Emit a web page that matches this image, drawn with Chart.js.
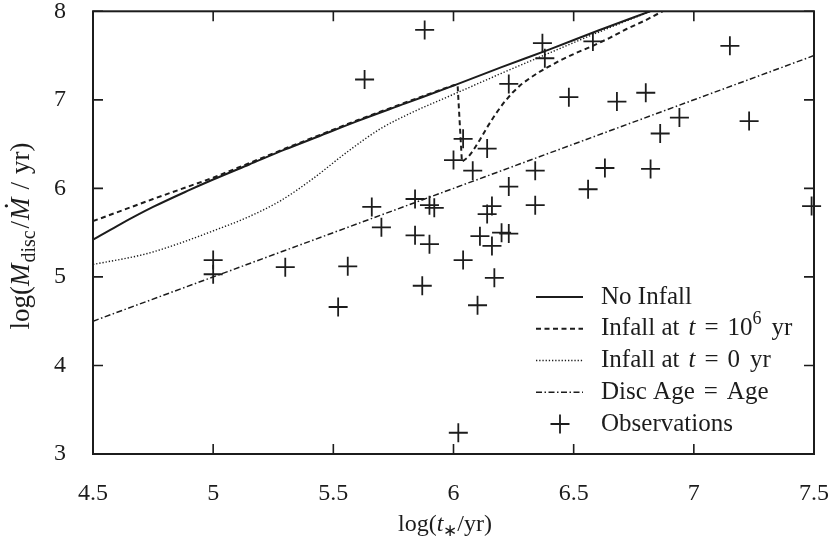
<!DOCTYPE html>
<html>
<head>
<meta charset="utf-8">
<script src="https://cdn.jsdelivr.net/npm/chart.js@4"></script>
<style>
html,body{margin:0;padding:0;background:#fff;}
#wrap{width:829px;height:552px;position:relative;}
</style>
</head>
<body>
<div id="wrap"><canvas id="c"></canvas></div>
<script>
// ---------------- data ----------------
const xTickLabels = ['4.5', '5', '5.5', '6', '6.5', '7', '7.5'];
const yTickLabels = ['3', '4', '5', '6', '7', '8'];

const noInfallX = [4.5, 4.6, 4.75, 4.9, 5.0, 5.15, 5.3, 5.45, 5.6, 5.8, 6.0, 6.2, 6.4, 6.6, 6.818];
const noInfallY = [5.42, 5.575, 5.79, 5.98, 6.10, 6.27, 6.44, 6.60, 6.76, 6.96, 7.16, 7.37, 7.57, 7.78, 8.0];

const infall6X = [4.5, 4.75, 5.0, 5.3, 5.6, 5.8, 6.0, 6.017, 6.035, 6.06, 6.08, 6.11, 6.14, 6.175, 6.21, 6.245,
                  6.28, 6.32, 6.36, 6.40, 6.44, 6.51, 6.58, 6.65, 6.72, 6.80, 6.87];
const infall6Y = [5.63, 5.88, 6.12, 6.45, 6.77, 6.97, 7.165, 7.17, 6.30, 6.35, 6.42, 6.55, 6.69, 6.84, 6.97, 7.08,
                  7.17, 7.25, 7.32, 7.38, 7.44, 7.53, 7.61, 7.70, 7.80, 7.90, 8.0];

const infall0X = [4.5, 4.72, 4.85, 5.0, 5.14, 5.28, 5.415, 5.557, 5.694, 5.83, 6.015, 6.2, 6.4, 6.6, 6.82];
const infall0Y = [5.14, 5.26, 5.37, 5.52, 5.67, 5.86, 6.11, 6.41, 6.67, 6.86, 7.08, 7.30, 7.53, 7.76, 8.0];

const discAgeX = [4.5, 7.5];
const discAgeY = [4.5, 7.5];

const obsX = [5.88, 5.63, 6.37, 6.38, 6.58, 7.15, 6.23, 6.48, 6.68, 6.80, 6.94, 7.23, 6.86, 6.04, 6.14, 6.00,
              6.08, 6.34, 6.63, 6.82, 6.23, 6.56, 6.34, 6.16, 6.14, 6.11, 6.20, 6.23, 6.16, 6.04, 6.17, 7.49,
              6.10, 6.02, 5.84, 5.90, 5.92, 5.66, 5.70, 5.84, 5.90, 5.00, 5.00, 5.30, 5.56, 5.52, 5.87];
const obsY = [7.79, 7.23, 7.64, 7.47, 7.66, 7.61, 7.18, 7.03, 6.98, 7.08, 6.80, 6.76, 6.62, 6.56, 6.45, 6.32,
              6.20, 6.20, 6.23, 6.22, 6.02, 5.99, 5.81, 5.80, 5.71, 5.46, 5.50, 5.49, 5.35, 5.19, 4.99, 5.80,
              4.68, 3.24, 5.88, 5.81, 5.78, 5.79, 5.56, 5.47, 5.37, 5.19, 5.03, 5.11, 5.12, 4.66, 4.90];

const seriesLabels = ['No Infall', 'Infall at t = 10\u2076 yr', 'Infall at t = 0 yr', 'Disc Age = Age', 'Observations'];

// ---------------- helpers ----------------
const INK = '#1c1c1c';
const FONT = '"Liberation Serif", "Times New Roman", serif';
const pts = (xs, ys) => xs.map((x, i) => ({x: x, y: ys[i]}));

function segFont(s, size, subRatio) {
  const sz = (s.sub || s.sup) ? Math.round(size * subRatio) : size;
  return (s.it ? 'italic ' : '') + sz + 'px ' + FONT;
}
function segWidth(ctx, s, size, subRatio) {
  if (s.gap) return s.gap;
  ctx.font = segFont(s, size, subRatio);
  return ctx.measureText(s.t).width;
}
function drawRich(ctx, segs, x, y, size, align, subRatio) {
  subRatio = subRatio || 0.7;
  ctx.textBaseline = 'middle';
  ctx.textAlign = 'left';
  let total = 0;
  segs.forEach(s => { total += segWidth(ctx, s, size, subRatio); });
  let cx = align === 'center' ? x - total / 2 : x;
  segs.forEach(s => {
    const w = segWidth(ctx, s, size, subRatio);
    if (!s.gap) {
      ctx.font = segFont(s, size, subRatio);
      let dy = 0;
      if (s.sub) dy = size * 0.28;
      if (s.sup) dy = -size * 0.38;
      ctx.fillText(s.t, cx, y + dy);
      if (s.dot) {
        ctx.font = size + 'px ' + FONT;
        ctx.textAlign = 'center';
        ctx.fillText('.', cx + w * 0.62, y - size * 0.78);
        ctx.textAlign = 'left';
      }
    }
    cx += w;
  });
}

const legendSegs = [
  [{t: 'No Infall'}],
  [{t: 'Infall at'}, {gap: 9}, {t: 't', it: true}, {gap: 9}, {t: '='}, {gap: 9}, {t: '10'}, {t: '6', sup: true}, {gap: 10}, {t: 'yr'}],
  [{t: 'Infall at'}, {gap: 9}, {t: 't', it: true}, {gap: 9}, {t: '='}, {gap: 9}, {t: '0'}, {gap: 10}, {t: 'yr'}],
  [{t: 'Disc Age'}, {gap: 9}, {t: '='}, {gap: 9}, {t: 'Age'}],
  [{t: 'Observations'}]
];

const framePlugin = {
  id: 'frame',
  afterDraw(chart) {
    const ctx = chart.ctx;
    const a = chart.chartArea;
    const xs = chart.scales.x, ys = chart.scales.y;
    ctx.save();
    ctx.strokeStyle = INK;
    ctx.fillStyle = INK;
    // ticks (inward, mirrored)
    ctx.lineWidth = 1.6;
    const TL = 10;
    xs.ticks.forEach(t => {
      const px = xs.getPixelForValue(t.value);
      ctx.beginPath();
      ctx.moveTo(px, a.bottom); ctx.lineTo(px, a.bottom - TL);
      ctx.moveTo(px, a.top); ctx.lineTo(px, a.top + TL);
      ctx.stroke();
    });
    ys.ticks.forEach(t => {
      const py = ys.getPixelForValue(t.value);
      ctx.beginPath();
      ctx.moveTo(a.left, py); ctx.lineTo(a.left + TL, py);
      ctx.moveTo(a.right, py); ctx.lineTo(a.right - TL, py);
      ctx.stroke();
    });
    // frame
    ctx.lineWidth = 2;
    ctx.strokeRect(a.left, a.top, a.right - a.left, a.bottom - a.top);

    // legend
    const ds = chart.data.datasets;
    const rowY0 = 297, rowH = 31.75;
    ds.forEach((d, i) => {
      const y = rowY0 + i * rowH;
      if (d.showLine) {
        ctx.save();
        ctx.lineWidth = d.borderWidth;
        ctx.setLineDash(d.borderDash || []);
        ctx.beginPath();
        ctx.moveTo(536, y); ctx.lineTo(583, y);
        ctx.stroke();
        ctx.restore();
      } else {
        ctx.save();
        ctx.lineWidth = d.borderWidth;
        ctx.beginPath();
        ctx.moveTo(560 - d.pointRadius, y); ctx.lineTo(560 + d.pointRadius, y);
        ctx.moveTo(560, y - d.pointRadius); ctx.lineTo(560, y + d.pointRadius);
        ctx.stroke();
        ctx.restore();
      }
      drawRich(ctx, legendSegs[i], 601, y, 25, 'left');
    });

    // axis titles
    drawRich(ctx, [{t: 'log('}, {t: 't', it: true}, {t: '\u2217', sub: true}, {t: '/yr)'}], 445, 525, 24, 'center');
    ctx.save();
    ctx.translate(22, 236);
    ctx.rotate(-Math.PI / 2);
    drawRich(ctx, [{t: 'log('}, {t: 'M', it: true}, {gap: 1}, {t: 'disc', sub: true}, {gap: 2}, {t: '/'}, {gap: 1},
                   {t: 'M', it: true, dot: true}, {gap: 8}, {t: '/'}, {gap: 8}, {t: 'yr)'}], 0, 0, 27, 'center', 0.75);
    ctx.restore();
    ctx.restore();
  }
};

function zeroPad(s) { s.paddingTop = 0; s.paddingBottom = 0; s.paddingLeft = 0; s.paddingRight = 0; }

new Chart(document.getElementById('c'), {
  type: 'scatter',
  data: {
    datasets: [
      {label: seriesLabels[0], data: pts(noInfallX, noInfallY), showLine: true, borderColor: INK, borderWidth: 2,
       pointRadius: 0, cubicInterpolationMode: 'monotone', fill: false},
      {label: seriesLabels[1], data: pts(infall6X, infall6Y), showLine: true, borderColor: INK, borderWidth: 2,
       borderDash: [5, 3.5], pointRadius: 0, tension: 0, fill: false},
      {label: seriesLabels[2], data: pts(infall0X, infall0Y), showLine: true, borderColor: INK, borderWidth: 1.4,
       borderDash: [1.3, 1.9], pointRadius: 0, cubicInterpolationMode: 'monotone', fill: false},
      {label: seriesLabels[3], data: pts(discAgeX, discAgeY), showLine: true, borderColor: INK, borderWidth: 1.5,
       borderDash: [6, 2.5, 1.5, 2.5], pointRadius: 0, fill: false},
      {label: seriesLabels[4], data: pts(obsX, obsY), showLine: false, borderColor: INK, backgroundColor: INK,
       borderWidth: 1.8, pointStyle: 'cross', pointRadius: 9.5, pointHoverRadius: 9.5, clip: false}
    ]
  },
  options: {
    responsive: true,
    maintainAspectRatio: false,
    devicePixelRatio: 1,
    animation: false,
    events: [],
    layout: {padding: {top: 8, right: 15, left: 0, bottom: 0}},
    plugins: {legend: {display: false}, tooltip: {enabled: false}},
    scales: {
      x: {
        type: 'linear', min: 4.5, max: 7.5,
        grid: {display: false, drawTicks: false},
        border: {display: false},
        afterFit(s) { s.height = 98; zeroPad(s); },
        ticks: {
          stepSize: 0.5, padding: 25, color: INK, maxRotation: 0,
          font: {family: FONT, size: 24},
          callback: v => xTickLabels[Math.round((v - 4.5) / 0.5)]
        }
      },
      y: {
        type: 'linear', min: 3, max: 8,
        grid: {display: false, drawTicks: false},
        border: {display: false},
        afterFit(s) { s.width = 93; zeroPad(s); },
        ticks: {
          stepSize: 1, padding: 27, color: INK,
          font: {family: FONT, size: 24},
          callback: v => yTickLabels[Math.round(v - 3)]
        }
      }
    }
  },
  plugins: [framePlugin]
});
</script>
</body>
</html>
